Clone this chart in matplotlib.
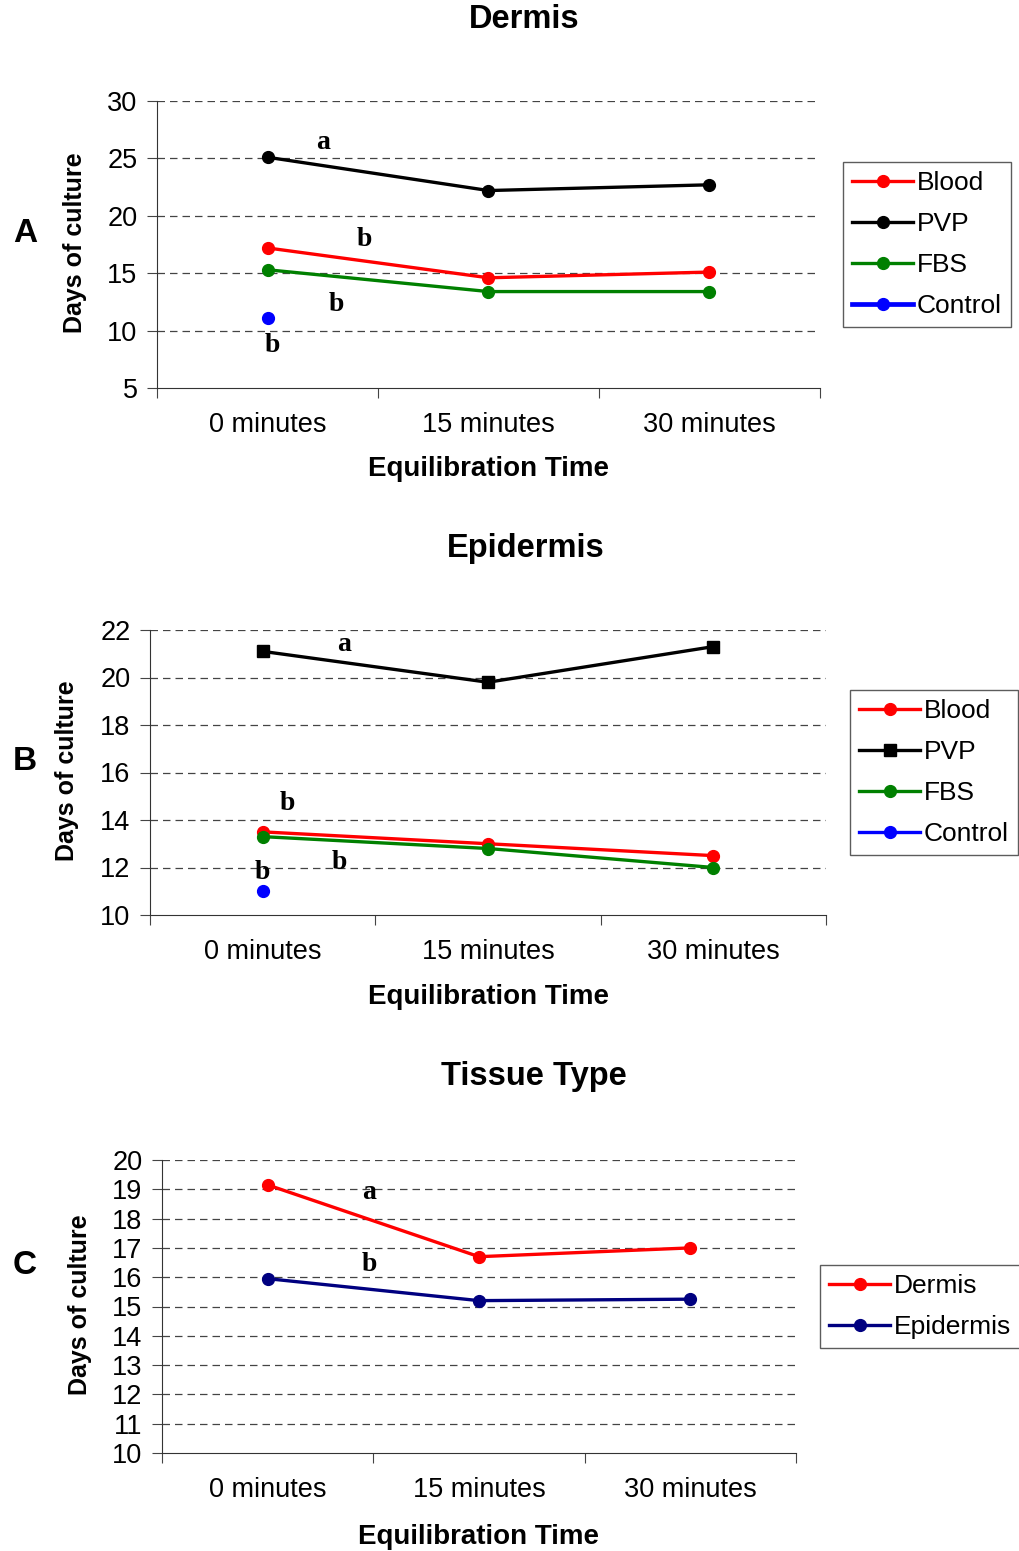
import matplotlib
matplotlib.use("Agg")
from matplotlib import pyplot as plt
import numpy as np

plt.rcParams['font.family'] = ['Liberation Sans', 'DejaVu Sans']

# data
times = ['0 minutes', '15 minutes', '30 minutes']

derm_blood = [17.2, 14.6, 15.1]
derm_pvp = [25.1, 22.2, 22.7]
derm_fbs = [15.3, 13.4, 13.4]
derm_control = [11.1]

epi_blood = [13.5, 13.0, 12.5]
epi_pvp = [21.1, 19.8, 21.3]
epi_fbs = [13.3, 12.8, 12.0]
epi_control = [11.0]

tissue_dermis = [19.15, 16.7, 17.0]
tissue_epidermis = [15.95, 15.2, 15.25]

# significance letters (x, y, letter)
letters_a = [(0.75, 26.4, 'a'), (0.94, 17.9, 'b'), (0.81, 12.3, 'b'), (0.52, 8.7, 'b')]
letters_b = [(0.86, 21.4, 'a'), (0.61, 14.7, 'b'), (0.84, 12.2, 'b'), (0.50, 11.8, 'b')]
letters_c = [(0.98, 18.9, 'a'), (0.98, 16.45, 'b')]

W, H = 1020, 1551
fig = plt.figure(figsize=(W / 100, H / 100), dpi=100)


def px_axes(l, t, r, b):
    return fig.add_axes([l / W, 1 - b / H, (r - l) / W, (b - t) / H])


def style(ax, ylim, yticks):
    ax.set_xlim(0, 3)
    ax.set_ylim(*ylim)
    ax.set_yticks(yticks)
    ax.set_xticks([0, 1, 2, 3])
    ax.set_xticklabels([])
    ax.set_xticks([0.5, 1.5, 2.5], minor=True)
    ax.set_xticklabels(times, minor=True, fontsize=19.5)
    ax.tick_params(axis='x', which='minor', length=0, pad=17)
    ax.tick_params(axis='x', which='major', length=7, direction='out', color='#444444')
    ax.tick_params(axis='y', length=7, direction='out', pad=7, labelsize=19.5, color='#444444')
    for s in ['top', 'right']:
        ax.spines[s].set_visible(False)
    for s in ['left', 'bottom']:
        ax.spines[s].set_color('#333333')
    for y in yticks[1:]:
        ax.axhline(y, color='#444444', lw=0.9, ls=(0, (6, 4)), zorder=0)


def letters(ax, items):
    for x, y, t in items:
        ax.text(x, y, t, fontsize=20, fontweight='bold', family='Liberation Serif',
                ha='center', va='center')


def legend(ax, l, t):
    leg = ax.legend(loc='upper left', bbox_to_anchor=(l / W, 1 - t / H),
                    bbox_transform=fig.transFigure, fontsize=19, frameon=True,
                    fancybox=False, handlelength=2.3, handletextpad=0.15,
                    borderpad=0.35, labelspacing=0.64, borderaxespad=0)
    leg.get_frame().set_edgecolor('#333333')
    leg.get_frame().set_linewidth(1.0)


xs = np.array([0.5, 1.5, 2.5])
lw, ms = 2.4, 8.5

# Panel A
ax = px_axes(157, 101, 820, 388)
style(ax, (5, 30), [5, 10, 15, 20, 25, 30])
ax.plot(xs, derm_blood, '-o', color='red', lw=lw, ms=ms, label='Blood')
ax.plot(xs, derm_pvp, '-o', color='black', lw=lw, ms=ms, label='PVP')
ax.plot(xs, derm_fbs, '-o', color='green', lw=lw, ms=ms, label='FBS')
ax.plot(xs[:1], derm_control, '-o', color='blue', lw=lw + 1, ms=ms, label='Control')
letters(ax, letters_a)
legend(ax, 843, 162)

# Panel B
ax = px_axes(150, 630, 826, 915)
style(ax, (10, 22), [10, 12, 14, 16, 18, 20, 22])
ax.plot(xs, epi_blood, '-o', color='red', lw=lw, ms=ms, label='Blood')
ax.plot(xs, epi_pvp, '-s', color='black', lw=lw, ms=ms - 0.5, label='PVP')
ax.plot(xs, epi_fbs, '-o', color='green', lw=lw, ms=ms, label='FBS')
ax.plot(xs[:1], epi_control, '-o', color='blue', lw=lw, ms=ms, label='Control')
letters(ax, letters_b)
legend(ax, 850, 690)

# Panel C
ax = px_axes(162, 1160, 796, 1453)
style(ax, (10, 20), list(range(10, 21)))
ax.plot(xs, tissue_dermis, '-o', color='red', lw=lw, ms=ms, label='Dermis')
ax.plot(xs, tissue_epidermis, '-o', color='navy', lw=lw, ms=ms, label='Epidermis')
letters(ax, letters_c)
legend(ax, 820, 1265)

# titles, labels, panel letters
for x, y, t in [(524, 20, 'Dermis'), (526, 548, 'Epidermis'), (534, 1077, 'Tissue Type')]:
    fig.text(x / W, 1 - y / H, t, fontsize=23.5, fontweight='bold', ha='center', va='center')
for x, y in [(489, 469), (489, 997), (479, 1537)]:
    fig.text(x / W, 1 - y / H, 'Equilibration Time', fontsize=20, fontweight='bold',
             ha='center', va='center')
for x, y in [(75, 243), (67, 771), (80, 1305)]:
    fig.text(x / W, 1 - y / H, 'Days of culture', fontsize=18, fontweight='bold',
             ha='center', va='center', rotation=90)
for x, y, t in [(25, 234, 'A'), (25, 762, 'B'), (25, 1266, 'C')]:
    fig.text(x / W, 1 - y / H, t, fontsize=24, fontweight='bold', ha='center', va='center')

fig.savefig('out.png', dpi=100)
